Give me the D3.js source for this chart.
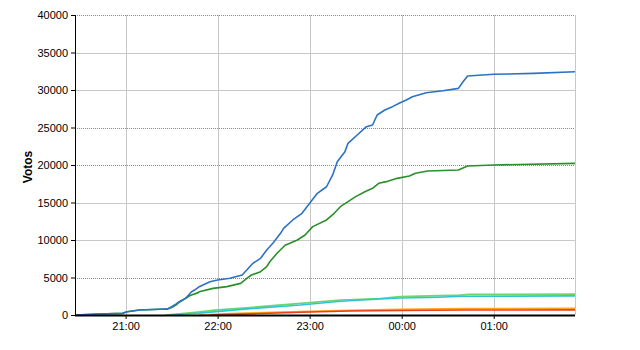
<!DOCTYPE html>
<html>
<head>
<meta charset="utf-8">
<script src="https://cdn.jsdelivr.net/npm/d3@7"></script>
<style>
  body { margin: 0; background: #fff; }
  svg { display: block; font-family: "Liberation Sans", Arial, sans-serif; }
</style>
</head>
<body>
<svg id="chart" width="640" height="350"></svg>
<script>
// times after 23:59 belong to the next day
const blueTimes = ["20:27","20:43","20:58","21:01","21:09","21:22","21:27","21:30","21:33","21:35","21:39","21:40","21:43","21:45","21:48","21:55","22:00","22:08","22:16","22:19","22:23","22:28","22:32","22:36","22:41","22:43","22:49","22:55","23:00","23:05","23:11","23:15","23:18","23:23","23:25","23:31","23:37","23:41","23:44","23:49","23:54","23:59","00:03","00:07","00:16","00:27","00:37","00:40","00:43","01:00","01:26","01:53"];
const blueValues = [0,130,220,440,670,760,780,1100,1470,1780,2220,2440,3110,3330,3780,4440,4670,4890,5330,6000,6890,7560,8670,9560,10890,11550,12670,13560,14890,16220,17100,18670,20440,21780,22890,24000,25110,25330,26670,27330,27780,28310,28670,29110,29640,29910,30220,31110,31870,32090,32220,32440];

const greenTimes = ["20:27","20:43","20:58","21:01","21:09","21:22","21:27","21:30","21:33","21:35","21:42","21:47","21:48","21:57","22:06","22:15","22:19","22:22","22:28","22:32","22:34","22:39","22:44","22:52","22:57","23:02","23:11","23:16","23:20","23:25","23:30","23:36","23:41","23:45","23:50","23:57","00:05","00:09","00:17","00:37","00:43","01:00","01:53"];
const greenValues = [0,130,220,440,670,760,780,1000,1350,1700,2600,2950,3100,3550,3780,4220,4890,5330,5780,6440,7100,8300,9300,10000,10670,11780,12670,13560,14440,15110,15780,16440,16890,17560,17780,18220,18530,18890,19200,19330,19870,20000,20220];

const lightGreenTimes = ["21:26","21:35","21:47","21:58","22:21","22:54","23:20","23:46","23:59","00:38","00:44","01:53"];
const lightGreenValues = [0,150,400,650,1000,1550,2000,2200,2450,2650,2750,2780];

const cyanTimes = ["21:29","21:48","22:21","22:54","23:20","23:46","23:59","00:18","00:41","01:53"];
const cyanValues = [0,250,850,1330,1830,2130,2270,2330,2500,2550];

const orangeTimes = ["21:48","22:08","22:54","23:26","23:59","00:41","01:53"];
const orangeValues = [0,200,450,620,760,850,890];

const redTimes = ["21:55","22:21","22:54","23:26","23:59","00:41","01:53"];
const redValues = [0,150,360,530,600,660,680];

const yTicks = [0,5000,10000,15000,20000,25000,30000,35000,40000];
const dottedTicks = [5000,20000,25000,40000];
const xTickLabels = ["21:00","22:00","23:00","00:00","01:00"];

function toDate(s) {
  const [h, m] = s.split(":").map(Number);
  const day = h < 12 ? 2 : 1;
  return new Date(2000, 0, day, h, m);
}

const series = [
  { times: lightGreenTimes, values: lightGreenValues, color: "#6ad86a" },
  { times: cyanTimes, values: cyanValues, color: "#2fc4d2" },
  { times: orangeTimes, values: orangeValues, color: "#ffa31f" },
  { times: redTimes, values: redValues, color: "#e8401c" },
  { times: greenTimes, values: greenValues, color: "#2a8f2a" },
  { times: blueTimes, values: blueValues, color: "#2b72c6" }
];

const svg = d3.select("#chart");
const margin = {top: 15, right: 65, bottom: 35, left: 75};
const width = 640 - margin.left - margin.right,
      height = 350 - margin.top - margin.bottom;

const x = d3.scaleTime()
  .domain([toDate("20:27"), toDate("01:53")])
  .range([0, width]);
const y = d3.scaleLinear().domain([0, 40000]).range([height, 0]);

const g = svg.append("g").attr("transform", "translate(" + margin.left + "," + margin.top + ")");

// horizontal grid
g.selectAll(".hgrid")
  .data(yTicks.filter(d => d > 0))
  .enter().append("line")
  .attr("x1", 0).attr("x2", width)
  .attr("y1", d => Math.round(y(d)) + 0.5).attr("y2", d => Math.round(y(d)) + 0.5)
  .attr("stroke", d => dottedTicks.includes(d) ? "#8c8c8c" : "#c8c8c8")
  .attr("stroke-dasharray", d => dottedTicks.includes(d) ? "1,1" : null);

// vertical grid
g.selectAll(".vgrid")
  .data(xTickLabels.map(toDate))
  .enter().append("line")
  .attr("x1", d => Math.round(x(d)) + 0.5).attr("x2", d => Math.round(x(d)) + 0.5)
  .attr("y1", y(40000)).attr("y2", height)
  .attr("stroke", "#c8c8c8");

// right border
g.append("line")
  .attr("x1", width + 0.5).attr("x2", width + 0.5)
  .attr("y1", 0).attr("y2", height)
  .attr("stroke", "#c8c8c8");

// series lines
const line = d3.line()
  .x(d => x(d[0]))
  .y(d => y(d[1]));

series.forEach(s => {
  const pts = s.times.map((t, i) => [toDate(t), s.values[i]]);
  g.append("path")
    .datum(pts)
    .attr("fill", "none")
    .attr("stroke", s.color)
    .attr("stroke-width", 1.6)
    .attr("stroke-linejoin", "round")
    .attr("d", line);
});

// y axis
const yAxis = g.append("g")
  .call(d3.axisLeft(y).tickValues(yTicks).tickSize(4).tickPadding(3).tickFormat(d3.format("d")));
yAxis.select(".domain").attr("stroke", "#000").attr("d", "M0.5,0V" + height);
yAxis.selectAll("text").attr("font-size", 11).attr("fill", "#000")
  .attr("font-family", "Liberation Sans, Arial, sans-serif");

// x axis
const xAxis = g.append("g")
  .attr("transform", "translate(0," + height + ")")
  .call(d3.axisBottom(x).tickValues(xTickLabels.map(toDate)).tickSize(4).tickPadding(3)
    .tickFormat(d3.timeFormat("%H:%M")));
xAxis.select(".domain").attr("stroke", "#000").attr("stroke-width", 2).attr("d", "M0,0.5H" + width);
xAxis.selectAll("text").attr("font-size", 11).attr("fill", "#000")
  .attr("font-family", "Liberation Sans, Arial, sans-serif");

// y label
svg.append("text")
  .attr("transform", "translate(32,167) rotate(-90)")
  .attr("text-anchor", "middle")
  .attr("font-size", 12)
  .attr("font-weight", "bold")
  .text("Votos");
</script>
</body>
</html>
